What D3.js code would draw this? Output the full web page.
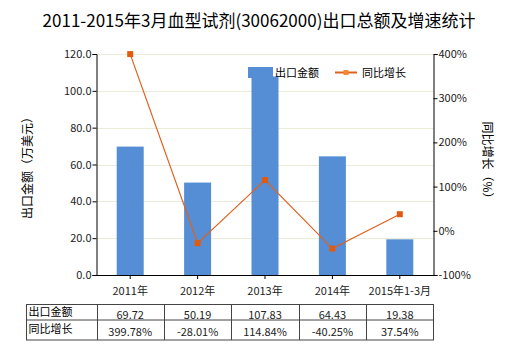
<!DOCTYPE html>
<html><head><meta charset="utf-8">
<script src="https://cdn.jsdelivr.net/npm/d3@7"></script>
<style>body{margin:0;background:#fff}svg{display:block}text{font-family:"Microsoft YaHei","Noto Sans CJK SC",sans-serif}</style>
</head><body>
<svg id="c" width="520" height="350"></svg>
<script>
const categories = ["2011年","2012年","2013年","2014年","2015年1-3月"];
const exportValues = [69.72, 50.19, 107.83, 64.43, 19.38];
const growthValues = [399.78, -28.01, 114.84, -40.25, 37.54];
const exportLabels = ["69.72","50.19","107.83","64.43","19.38"];
const growthLabels = ["399.78%","-28.01%","114.84%","-40.25%","37.54%"];
const leftTicks = [0,20,40,60,80,100,120];
const rightTicks = [-100,0,100,200,300,400];

const svg = d3.select("#c");
const L=96.5, R=433.5, T=54, B=275;
const x = d3.scaleBand().domain(categories).range([L,R]);
const yL = d3.scaleLinear().domain([0,120]).range([B,T]);
const yR = d3.scaleLinear().domain([-100,400]).range([B,T]);
const barColor="#558ed5", lineColor="#e0601f";

svg.append("text").attr("x",259).attr("y",27).attr("text-anchor","middle")
  .attr("font-size",17).attr("fill","#000").text("2011-2015年3月血型试剂(30062000)出口总额及增速统计");

// grid
svg.append("g").selectAll("line").data(leftTicks.filter(d=>d>0)).join("line")
  .attr("x1",L).attr("x2",R).attr("y1",d=>Math.round(yL(d))+0.5).attr("y2",d=>Math.round(yL(d))+0.5)
  .attr("stroke","#ebebd9").attr("stroke-width",1);

// bars
svg.append("g").selectAll("rect").data(exportValues).join("rect")
  .attr("x",(d,i)=>x(categories[i])+x.bandwidth()/2-13.5).attr("width",27)
  .attr("y",d=>yL(d)).attr("height",d=>B-yL(d)).attr("fill",barColor);

// axes
const axL = d3.axisLeft(yL).tickValues(leftTicks).tickFormat(d3.format(".1f")).tickSizeOuter(0).tickSize(4);
const gL = svg.append("g").attr("transform",`translate(${L},0)`).call(axL);
const axR = d3.axisRight(yR).tickValues(rightTicks).tickFormat(d=>d+"%").tickSizeOuter(0).tickSize(4);
const gR = svg.append("g").attr("transform",`translate(${R},0)`).call(axR);
const axB = d3.axisBottom(x).tickSize(4).tickSizeOuter(0);
const gB = svg.append("g").attr("transform",`translate(0,${B})`).call(axB);
[gL,gR,gB].forEach(g=>{g.selectAll("path,line").attr("stroke","#000");g.selectAll("text").attr("font-size",11).attr("fill","#222").style("font-family","'Microsoft YaHei','Noto Sans CJK SC',sans-serif");});
gB.selectAll("text").attr("dy","1.2em");
gL.selectAll("text").attr("x",-5);
gR.selectAll("text").attr("x",5);

// axis titles
svg.append("text").attr("transform","translate(32,165) rotate(-90)").attr("text-anchor","middle")
  .attr("font-size",12).attr("fill","#000").text("出口金额（万美元）");
svg.append("text").attr("transform","translate(483,163) rotate(90)").attr("text-anchor","middle")
  .attr("font-size",12).attr("fill","#000").text("同比增长（%）");

// line
const line = d3.line().x((d,i)=>x(categories[i])+x.bandwidth()/2).y(d=>yR(d));
svg.append("path").datum(growthValues).attr("d",line).attr("fill","none").attr("stroke",lineColor).attr("stroke-width",1.2);
svg.append("g").selectAll("rect").data(growthValues).join("rect")
  .attr("x",(d,i)=>x(categories[i])+x.bandwidth()/2-3).attr("y",d=>yR(d)-3)
  .attr("width",6).attr("height",6).attr("fill","#e05a10");

// legend
const lg = svg.append("g");
lg.append("rect").attr("x",248).attr("y",67).attr("width",25).attr("height",11).attr("fill",barColor);
lg.append("text").attr("x",275).attr("y",77).attr("font-size",11).attr("fill","#000").text("出口金额");
lg.append("line").attr("x1",335).attr("x2",357).attr("y1",72.5).attr("y2",72.5).attr("stroke",lineColor).attr("stroke-width",2);
lg.append("rect").attr("x",343.5).attr("y",70).attr("width",5).attr("height",5).attr("fill","#f08a30");
lg.append("text").attr("x",362).attr("y",77).attr("font-size",11).attr("fill","#000").text("同比增长");

// table
const tL=26.5, tT=304.5, rowH=[15.5,20];
const cols=[tL, ...categories.map(c=>x(c)), R];
const tg = svg.append("g");
const tB = tT+rowH[0]+rowH[1];
tg.append("rect").attr("x",tL).attr("y",tT).attr("width",R-tL).attr("height",tB-tT).attr("fill","none").attr("stroke","#444");
tg.append("line").attr("x1",tL).attr("x2",R).attr("y1",tT+rowH[0]).attr("y2",tT+rowH[0]).attr("stroke","#444");
tg.selectAll("line.v").data(cols.slice(1,-1)).join("line").attr("class","v")
  .attr("x1",d=>Math.round(d)+0.5).attr("x2",d=>Math.round(d)+0.5).attr("y1",tT).attr("y2",tB).attr("stroke","#444");
const rows=[["出口金额",exportLabels],["同比增长",growthLabels]];
const rowY=[tT+12, tT+rowH[0]+14];
rows.forEach((r,ri)=>{
  tg.append("text").attr("x",tL+2).attr("y",rowY[ri]-1).attr("font-size",11).attr("fill","#000").text(r[0]);
  tg.selectAll(null).data(r[1]).join("text").attr("x",(d,i)=>x(categories[i])+x.bandwidth()/2)
    .attr("y",rowY[ri]+2).attr("text-anchor","middle").attr("font-size",11).attr("fill","#222").text(d=>d);
});
</script>
</body></html>
